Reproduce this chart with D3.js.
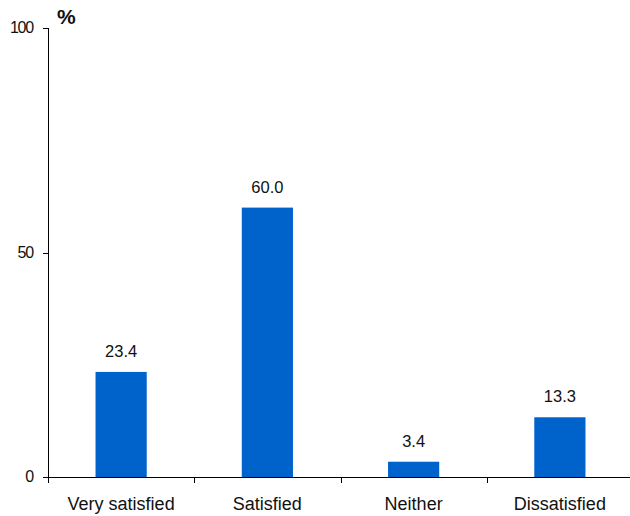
<!DOCTYPE html>
<html>
<head>
<meta charset="utf-8">
<script src="https://cdn.jsdelivr.net/npm/d3@7"></script>
<style>
  body { margin: 0; background: #fff; }
  text { font-family: "Liberation Sans", Arial, sans-serif; fill: #111; }
</style>
</head>
<body>
<div id="chart"></div>
<script>
// Chart data
var categories = ["Very satisfied", "Satisfied", "Neither", "Dissatisfied"];
var values = [23.4, 60.0, 3.4, 13.3];
var yTicks = [0, 50, 100];

var width = 630, height = 516;

var svg = d3.select("#chart").append("svg")
    .attr("width", width)
    .attr("height", height);

var x = d3.scaleBand()
    .domain(categories)
    .range([48, 633])
    .paddingInner(0.65)
    .paddingOuter(0.325);

var y = d3.scaleLinear()
    .domain([0, 100])
    .range([477, 28]);

// bars
svg.selectAll("rect.bar")
    .data(values)
    .enter().append("rect")
    .attr("class", "bar")
    .attr("x", (d, i) => x(categories[i]))
    .attr("y", d => y(d))
    .attr("width", x.bandwidth())
    .attr("height", d => y(0) - y(d))
    .style("fill", "#0063cc");

// value labels
svg.selectAll("text.val")
    .data(values)
    .enter().append("text")
    .attr("class", "val")
    .attr("x", (d, i) => x(categories[i]) + x.bandwidth() / 2)
    .attr("y", d => y(d) - 15)
    .attr("text-anchor", "middle")
    .style("font-size", "16.5px")
    .text(d => d.toFixed(1));

// y axis
svg.append("line")
    .attr("x1", 48.5).attr("x2", 48.5)
    .attr("y1", y(100)).attr("y2", y(0))
    .style("stroke", "#000");
svg.selectAll("line.ytick")
    .data(yTicks)
    .enter().append("line")
    .attr("class", "ytick")
    .attr("x1", 43).attr("x2", 48.5)
    .attr("y1", d => Math.round(y(d)) + 0.5)
    .attr("y2", d => Math.round(y(d)) + 0.5)
    .style("stroke", "#000");
svg.selectAll("text.ylab")
    .data(yTicks)
    .enter().append("text")
    .attr("class", "ylab")
    .attr("x", 33)
    .attr("y", d => y(d) + 5)
    .attr("text-anchor", "end")
    .style("font-size", "16px")
    .style("letter-spacing", "-1.2px")
    .text(d => d);

// x axis
svg.append("line")
    .attr("x1", 43).attr("x2", 630)
    .attr("y1", 477.5).attr("y2", 477.5)
    .style("stroke", "#000");
var bounds = categories.map(c => x(c) - x.step() * x.paddingInner() / 2);
bounds[0] = 48;
svg.selectAll("line.xtick")
    .data(bounds)
    .enter().append("line")
    .attr("class", "xtick")
    .attr("x1", d => Math.round(d) + 0.5)
    .attr("x2", d => Math.round(d) + 0.5)
    .attr("y1", 477.5).attr("y2", 483)
    .style("stroke", "#000");
svg.selectAll("text.xlab")
    .data(categories)
    .enter().append("text")
    .attr("class", "xlab")
    .attr("x", d => x(d) + x.bandwidth() / 2)
    .attr("y", 510)
    .attr("text-anchor", "middle")
    .style("font-size", "18px")
    .text(d => d);

// unit
svg.append("text")
    .attr("x", 57)
    .attr("y", 24)
    .style("font-size", "21px")
    .style("font-weight", "bold")
    .text("%");
</script>
</body>
</html>
